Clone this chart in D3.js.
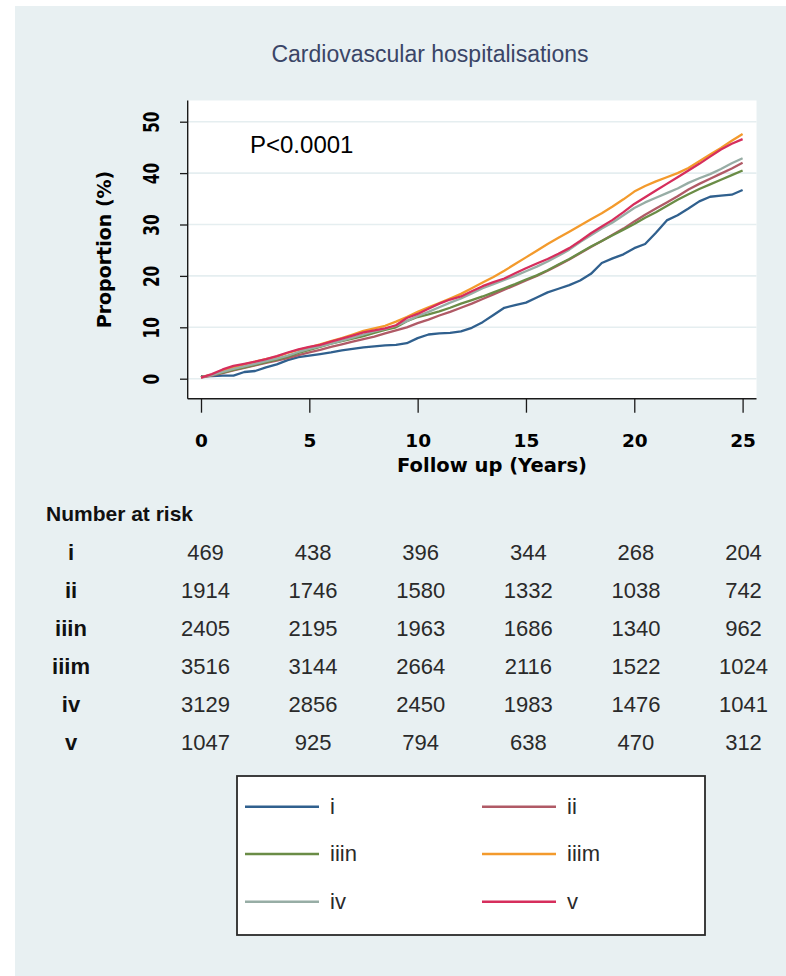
<!DOCTYPE html>
<html>
<head>
<meta charset="utf-8">
<script src="https://cdn.jsdelivr.net/npm/d3@7"></script>
<style>
  html, body { margin: 0; padding: 0; background: #ffffff; }
  svg { display: block; }
</style>
</head>
<body>
<svg id="chart" width="786" height="976"></svg>
<script>
// Follow-up time grid (years)
const followUp = [0, 0.5, 1, 1.5, 2, 2.5, 3, 3.5, 4, 4.5, 5, 5.5, 6, 6.5, 7, 7.5, 8, 8.5, 9, 9.5,
  10, 10.5, 11, 11.5, 12, 12.5, 13, 13.5, 14, 14.5, 15, 15.5, 16, 16.5, 17, 17.5, 18, 18.5, 19, 19.5,
  20, 20.5, 21, 21.5, 22, 22.5, 23, 23.5, 24, 24.5, 25];

// Cumulative proportion hospitalised (%) per group
const cumI = [0.5, 0.5, 0.6, 0.6, 1.3, 1.5, 2.2, 2.8, 3.6, 4.2, 4.5, 4.8, 5.1, 5.5, 5.8, 6.1, 6.3, 6.5, 6.6, 6.9,
  7.9, 8.6, 8.8, 8.9, 9.2, 9.9, 11.0, 12.4, 13.8, 14.3, 14.8, 15.8, 16.8, 17.5, 18.2, 19.1, 20.4, 22.5, 23.4, 24.2,
  25.4, 26.2, 28.4, 30.8, 31.8, 33.1, 34.5, 35.4, 35.6, 35.8, 36.7];
const cumII = [0.2, 0.6, 1.1, 1.6, 2.1, 2.6, 3.1, 3.5, 4.0, 4.6, 5.1, 5.6, 6.2, 6.7, 7.2, 7.7, 8.2, 8.8, 9.4, 10.0,
  10.8, 11.5, 12.3, 13.0, 13.8, 14.6, 15.5, 16.4, 17.3, 18.2, 19.1, 20.0, 21.0, 22.1, 23.2, 24.4, 25.6, 26.8, 28.0, 29.2,
  30.6, 31.9, 33.1, 34.3, 35.5, 36.8, 37.9, 38.9, 39.9, 40.9, 42.0];
const cumIIIn = [0.3, 0.7, 1.2, 1.7, 2.2, 2.7, 3.2, 3.7, 4.3, 5.0, 5.6, 6.2, 6.8, 7.3, 7.8, 8.3, 8.9, 9.5, 10.0, 11.2,
  12.0, 12.5, 13.1, 13.8, 14.6, 15.3, 16.0, 16.8, 17.6, 18.4, 19.3, 20.1, 21.1, 22.2, 23.3, 24.5, 25.7, 26.8, 27.9, 29.0,
  30.1, 31.3, 32.4, 33.6, 34.8, 35.9, 36.9, 37.8, 38.7, 39.6, 40.5];
const cumIIIm = [0.3, 0.8, 1.5, 2.2, 2.8, 3.3, 3.8, 4.3, 5.0, 5.6, 6.1, 6.7, 7.3, 7.9, 8.6, 9.3, 9.8, 10.3, 11.1, 12.0,
  13.0, 13.9, 14.7, 15.6, 16.5, 17.6, 18.7, 19.8, 21.0, 22.3, 23.6, 24.9, 26.2, 27.4, 28.6, 29.8, 31.0, 32.2, 33.5, 34.9,
  36.4, 37.5, 38.4, 39.2, 40.0, 41.0, 42.3, 43.6, 44.9, 46.3, 47.6];
const cumIV = [0.3, 0.7, 1.3, 1.9, 2.4, 2.9, 3.4, 3.9, 4.5, 5.2, 5.8, 6.3, 6.8, 7.4, 8.0, 8.6, 9.2, 9.7, 10.3, 11.2,
  12.2, 13.0, 13.9, 14.8, 15.6, 16.6, 17.6, 18.4, 19.2, 20.0, 20.9, 21.8, 22.8, 23.9, 25.1, 26.6, 27.9, 29.2, 30.4, 31.8,
  33.2, 34.3, 35.2, 36.1, 37.0, 38.1, 39.0, 39.8, 40.8, 41.9, 42.9];
const cumV = [0.2, 0.9, 1.8, 2.5, 2.9, 3.3, 3.8, 4.4, 5.1, 5.7, 6.2, 6.6, 7.2, 7.8, 8.4, 9.0, 9.4, 9.8, 10.4, 11.8,
  12.6, 13.6, 14.6, 15.4, 16.0, 17.0, 18.0, 18.8, 19.5, 20.5, 21.5, 22.4, 23.3, 24.3, 25.4, 26.8, 28.3, 29.6, 30.9, 32.4,
  34.0, 35.3, 36.6, 37.9, 39.2, 40.5, 41.8, 43.2, 44.6, 45.7, 46.6];

const groups = ["i", "ii", "iiin", "iiim", "iv", "v"];
const groupColors = ["#30608e", "#b05a66", "#6a8c46", "#f39a2c", "#97ada5", "#d62e5c"];
const groupSeries = [cumI, cumII, cumIIIn, cumIIIm, cumIV, cumV];

// Number at risk at each 5-year mark
const riskTimes = [0, 5, 10, 15, 20, 25];
const riskI = [469, 438, 396, 344, 268, 204];
const riskII = [1914, 1746, 1580, 1332, 1038, 742];
const riskIIIn = [2405, 2195, 1963, 1686, 1340, 962];
const riskIIIm = [3516, 3144, 2664, 2116, 1522, 1024];
const riskIV = [3129, 2856, 2450, 1983, 1476, 1041];
const riskV = [1047, 925, 794, 638, 470, 312];
const riskRows = [riskI, riskII, riskIIIn, riskIIIm, riskIV, riskV];

const xTicks = [0, 5, 10, 15, 20, 25];
const yTicks = [0, 10, 20, 30, 40, 50];

const titleText = "Cardiovascular hospitalisations";
const pText = "P<0.0001";
const xTitle = "Follow up (Years)";
const yTitle = "Proportion (%)";
const riskTitle = "Number at risk";

// ---- layout ----
const svg = d3.select("#chart");
const plot = { left: 187.7, right: 756.5, top: 100.5, bottom: 398.7 };
const x = d3.scaleLinear().domain([0, 25]).range([201, 742.6]);
const y = d3.scaleLinear().domain([0, 50]).range([378.7, 121.7]);
const xRisk = d3.scaleLinear().domain([0, 25]).range([205.5, 743.5]);

const boldFont = "'DejaVu Sans', sans-serif";
const plainFont = "'Liberation Sans', Arial, sans-serif";

// outer panel
svg.append("rect").attr("x", 15).attr("y", 6).attr("width", 771).attr("height", 970)
  .attr("fill", "#e8f0f2");

// title
svg.append("text").attr("x", 430).attr("y", 61.5).attr("text-anchor", "middle")
  .attr("font-family", plainFont).attr("font-size", 23).attr("fill", "#3a4567")
  .text(titleText);

// plot region
svg.append("rect").attr("x", plot.left).attr("y", plot.top)
  .attr("width", plot.right - plot.left).attr("height", plot.bottom - plot.top)
  .attr("fill", "#ffffff");

// gridlines
svg.append("g").selectAll("line").data(yTicks).join("line")
  .attr("x1", plot.left).attr("x2", plot.right)
  .attr("y1", d => y(d)).attr("y2", d => y(d))
  .attr("stroke", "#e5eef0").attr("stroke-width", 1.6);

// curves
const line = d3.line().x(d => x(d[0])).y(d => y(d[1]));
svg.append("g").selectAll("path").data(groupSeries).join("path")
  .attr("d", s => line(followUp.map((t, i) => [t, s[i]])))
  .attr("fill", "none")
  .attr("stroke", (s, i) => groupColors[i])
  .attr("stroke-width", 2.3)
  .attr("stroke-linejoin", "round");

// axis lines
svg.append("line").attr("x1", plot.left).attr("x2", plot.left)
  .attr("y1", plot.top).attr("y2", plot.bottom)
  .attr("stroke", "#1a1a1a").attr("stroke-width", 1.4);
svg.append("line").attr("x1", plot.left).attr("x2", plot.right)
  .attr("y1", plot.bottom).attr("y2", plot.bottom)
  .attr("stroke", "#1a1a1a").attr("stroke-width", 1.4);

// x axis
const xAxis = svg.append("g").attr("transform", `translate(0,${plot.bottom})`)
  .call(d3.axisBottom(x).tickValues(xTicks).tickSize(14).tickSizeOuter(0).tickPadding(21));
xAxis.select(".domain").remove();
xAxis.selectAll(".tick line").attr("stroke", "#1a1a1a").attr("stroke-width", 1.3);
xAxis.selectAll(".tick text")
  .attr("font-family", boldFont).attr("font-weight", "bold").attr("font-size", 18.5)
  .attr("fill", "#000");

// y axis with rotated tick labels
const yAxis = svg.append("g").attr("transform", `translate(${plot.left},0)`)
  .call(d3.axisLeft(y).tickValues(yTicks).tickSize(7.7).tickSizeOuter(0));
yAxis.select(".domain").remove();
yAxis.selectAll(".tick line").attr("stroke", "#1a1a1a").attr("stroke-width", 1.3);
yAxis.selectAll(".tick text")
  .attr("x", null).attr("dy", null).attr("text-anchor", "middle")
  .attr("transform", "translate(-28.8,0) rotate(-90) scale(0.85,1.22)")
  .attr("font-family", boldFont).attr("font-weight", "bold").attr("font-size", 18)
  .attr("fill", "#000");

// axis titles
svg.append("text").attr("transform", "translate(110.6,249.5) rotate(-90)")
  .attr("text-anchor", "middle").attr("font-family", boldFont).attr("font-weight", "bold")
  .attr("font-size", 19).attr("fill", "#000").text(yTitle);
svg.append("text").attr("x", 492).attr("y", 472).attr("text-anchor", "middle")
  .attr("font-family", boldFont).attr("font-weight", "bold").attr("font-size", 19.5)
  .attr("fill", "#000").text(xTitle);

// p-value note
svg.append("text").attr("x", 250).attr("y", 153).attr("font-family", plainFont)
  .attr("font-size", 24).attr("fill", "#000").text(pText);

// number at risk table
svg.append("text").attr("x", 46).attr("y", 521).attr("font-family", plainFont)
  .attr("font-weight", "bold").attr("font-size", 21).attr("fill", "#111").text(riskTitle);
const rowY = d3.scaleLinear().domain([0, 5]).range([559.5, 749.5]);
const rows = svg.append("g").selectAll("g").data(riskRows).join("g")
  .attr("transform", (r, i) => `translate(0,${rowY(i)})`);
rows.append("text").attr("x", 71).attr("text-anchor", "middle")
  .attr("font-family", plainFont).attr("font-weight", "bold").attr("font-size", 22)
  .attr("fill", "#111").text((r, i) => groups[i]);
rows.selectAll("text.n").data(r => r).join("text").attr("class", "n")
  .attr("x", (d, j) => xRisk(riskTimes[j])).attr("text-anchor", "middle")
  .attr("font-family", plainFont).attr("font-size", 22).attr("fill", "#2a2a2a")
  .text(d => d);

// legend
const legend = svg.append("g");
legend.append("rect").attr("x", 237).attr("y", 776).attr("width", 468).attr("height", 159)
  .attr("fill", "#ffffff").attr("stroke", "#2a2a2a").attr("stroke-width", 1.8);
const legCol = [245, 482];
const legRow = [806.7, 854, 901.7];
const items = legend.selectAll("g").data(groups).join("g")
  .attr("transform", (g, i) => `translate(${legCol[i % 2]},${legRow[Math.floor(i / 2)]})`);
items.append("line").attr("x1", 0).attr("x2", 74).attr("y1", 0).attr("y2", 0)
  .attr("stroke", (g, i) => groupColors[i]).attr("stroke-width", 2.6);
items.append("text").attr("x", 85).attr("y", 7).attr("font-family", plainFont)
  .attr("font-size", 22).attr("fill", "#2a2a2a").text(g => g);
</script>
</body>
</html>
